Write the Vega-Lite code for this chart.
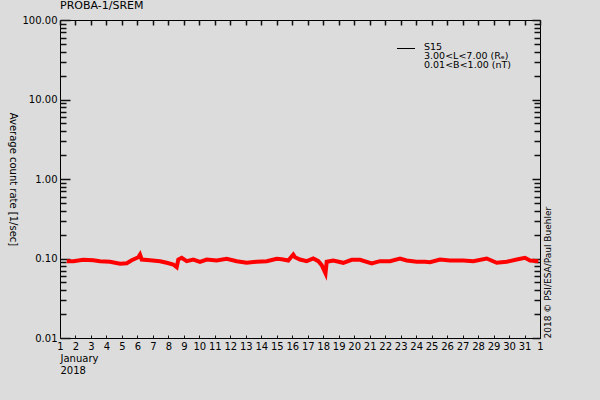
{
  "$schema": "https://vega.github.io/schema/vega-lite/v6.json",
  "width": 480,
  "height": 318,
  "autosize": "none",
  "padding": {"left": 60, "top": 20, "right": 60, "bottom": 62},
  "background": "#dcdcdc",
  "view": {"stroke": "#000000", "strokeWidth": 1, "fill": null},
  "config": {
    "font": "DejaVu Sans",
    "axis": {
      "grid": false,
      "zindex": 1,
      "domain": false,
      "labelColor": "#000000",
      "titleColor": "#000000",
      "labelFont": "DejaVu Sans",
      "titleFont": "DejaVu Sans",
      "labelFontSize": 10,
      "titleFontSize": 10,
      "titleFontWeight": "normal",
      "labelOverlap": false,
      "labelFlush": false
    }
  },
  "title": {
    "text": "PROBA-1/SREM",
    "anchor": "start",
    "frame": "group",
    "fontSize": 11,
    "fontWeight": "normal",
    "color": "#000000",
    "offset": 4
  },
  "datasets": {
    "srem": [
      {"time": "2018-01-01T10:24", "rate": 0.0925},
      {"time": "2018-01-01T20:36", "rate": 0.0925},
      {"time": "2018-01-02T12:07", "rate": 0.0963},
      {"time": "2018-01-03T03:38", "rate": 0.0952},
      {"time": "2018-01-03T14:00", "rate": 0.0925},
      {"time": "2018-01-04T05:30", "rate": 0.0909},
      {"time": "2018-01-04T21:00", "rate": 0.0858},
      {"time": "2018-01-05T07:24", "rate": 0.0873},
      {"time": "2018-01-05T15:08", "rate": 0.0952},
      {"time": "2018-01-06T01:22", "rate": 0.1038},
      {"time": "2018-01-06T04:00", "rate": 0.1122},
      {"time": "2018-01-06T06:38", "rate": 0.0971},
      {"time": "2018-01-06T19:30", "rate": 0.0952},
      {"time": "2018-01-07T11:00", "rate": 0.0925},
      {"time": "2018-01-07T21:23", "rate": 0.0883},
      {"time": "2018-01-08T07:37", "rate": 0.0840},
      {"time": "2018-01-08T12:53", "rate": 0.0777},
      {"time": "2018-01-08T15:22", "rate": 0.0971},
      {"time": "2018-01-08T20:38", "rate": 0.1020},
      {"time": "2018-01-09T04:23", "rate": 0.0925},
      {"time": "2018-01-09T14:37", "rate": 0.0971},
      {"time": "2018-01-10T01:00", "rate": 0.0909},
      {"time": "2018-01-10T11:23", "rate": 0.0971},
      {"time": "2018-01-11T02:53", "rate": 0.0944},
      {"time": "2018-01-11T18:23", "rate": 0.0991},
      {"time": "2018-01-12T09:53", "rate": 0.0925},
      {"time": "2018-01-13T01:23", "rate": 0.0883},
      {"time": "2018-01-13T16:53", "rate": 0.0909},
      {"time": "2018-01-14T08:23", "rate": 0.0925},
      {"time": "2018-01-14T23:53", "rate": 0.0991},
      {"time": "2018-01-15T07:38", "rate": 0.0980},
      {"time": "2018-01-15T17:51", "rate": 0.0944},
      {"time": "2018-01-16T01:36", "rate": 0.1122},
      {"time": "2018-01-16T04:15", "rate": 0.1038},
      {"time": "2018-01-16T12:00", "rate": 0.0971},
      {"time": "2018-01-16T22:23", "rate": 0.0925},
      {"time": "2018-01-17T08:37", "rate": 0.1000},
      {"time": "2018-01-17T16:22", "rate": 0.0925},
      {"time": "2018-01-17T21:38", "rate": 0.0824},
      {"time": "2018-01-18T03:32", "rate": 0.0650},
      {"time": "2018-01-18T05:23", "rate": 0.0909},
      {"time": "2018-01-18T15:36", "rate": 0.0944},
      {"time": "2018-01-19T07:06", "rate": 0.0883},
      {"time": "2018-01-19T20:08", "rate": 0.0963},
      {"time": "2018-01-20T09:00", "rate": 0.0963},
      {"time": "2018-01-21T03:08", "rate": 0.0865},
      {"time": "2018-01-21T16:00", "rate": 0.0925},
      {"time": "2018-01-22T07:30", "rate": 0.0925},
      {"time": "2018-01-22T23:00", "rate": 0.1000},
      {"time": "2018-01-23T09:23", "rate": 0.0944},
      {"time": "2018-01-24T00:53", "rate": 0.0909},
      {"time": "2018-01-24T13:45", "rate": 0.0909},
      {"time": "2018-01-24T21:30", "rate": 0.0899},
      {"time": "2018-01-25T13:00", "rate": 0.0971},
      {"time": "2018-01-26T04:30", "rate": 0.0944},
      {"time": "2018-01-27T01:06", "rate": 0.0944},
      {"time": "2018-01-27T16:36", "rate": 0.0925},
      {"time": "2018-01-28T13:22", "rate": 0.1000},
      {"time": "2018-01-29T04:52", "rate": 0.0883},
      {"time": "2018-01-29T20:22", "rate": 0.0909},
      {"time": "2018-01-30T11:53", "rate": 0.0971},
      {"time": "2018-01-31T00:45", "rate": 0.1020},
      {"time": "2018-01-31T08:30", "rate": 0.0944},
      {"time": "2018-01-31T21:22", "rate": 0.0925}
    ],
    "legendline": [
      {"start": "2018-01-22T18:21", "end": "2018-01-23T22:15", "rate": 43.8}
    ],
    "legendname": [
      {"label": "S15", "time": "2018-01-24T12:12", "rate": 46.0}
    ],
    "legendparams": [
      {"label": "3.00<L<7.00 (Rₑ)", "time": "2018-01-24T12:12", "rate": 35.2},
      {"label": "0.01<B<1.00 (nT)", "time": "2018-01-24T12:12", "rate": 27.5}
    ]
  },
  "layer": [
    {
      "data": {"name": "srem"},
      "mark": {"type": "line", "color": "#ff0000", "strokeWidth": 4, "clip": true},
      "encoding": {
        "x": {
          "field": "time",
          "type": "temporal",
          "scale": {"domain": [{"year": 2018, "month": 1, "date": 1}, {"year": 2018, "month": 2, "date": 1}]},
          "axis": {
            "orient": "bottom",
            "format": "%-d",
            "tickCount": {"interval": "day", "step": 1},
            "ticks": true,
            "tickColor": "#111111",
            "tickWidth": 1,
            "offset": -3,
            "tickSize": 3,
            "labelPadding": 3,
            "title": ["January", "2018"],
            "titleAnchor": "start",
            "titleAlign": "left",
            "titleBaseline": "top",
            "titleX": 0,
            "titleY": 18,
            "titleLineHeight": 12
          }
        },
        "y": {
          "field": "rate",
          "type": "quantitative",
          "scale": {"type": "log", "domain": [0.01, 100]},
          "axis": {
            "orient": "left",
            "values": [0.01, 0.1, 1, 10, 100],
            "format": ".2f",
            "ticks": true,
            "tickColor": "#111111",
            "tickWidth": 1.5,
            "offset": -10,
            "tickSize": 10,
            "labelPadding": 3,
            "title": "Average count rate [1/sec]",
            "titleAngle": 90,
            "titleAlign": "center",
            "titleBaseline": "middle",
            "titleX": -58,
            "titleY": 159
          }
        }
      }
    },
    {
      "data": {"name": "legendline"},
      "mark": {"type": "rule", "color": "#000000", "strokeWidth": 1},
      "encoding": {
        "x": {
          "field": "start",
          "type": "temporal",
          "scale": {"domain": [{"year": 2018, "month": 1, "date": 1}, {"year": 2018, "month": 2, "date": 1}]},
          "axis": {
            "orient": "top",
            "labels": false,
            "title": null,
            "ticks": true,
            "tickColor": "#111111",
            "tickWidth": 1.5,
            "offset": -5,
            "tickSize": 5,
            "tickCount": {"interval": "day", "step": 1}
          }
        },
        "x2": {"field": "end"},
        "y": {
          "field": "rate",
          "type": "quantitative",
          "scale": {"type": "log", "domain": [0.01, 100]},
          "axis": {
            "orient": "right",
            "labels": false,
            "values": [0.01, 0.1, 1, 10, 100],
            "ticks": true,
            "tickColor": "#111111",
            "tickWidth": 1.5,
            "offset": -8,
            "tickSize": 8,
            "title": "2018 © PSI/ESA/Paul Buehler",
            "titleFontSize": 9,
            "titleAngle": -90,
            "titleAlign": "left",
            "titleBaseline": "middle",
            "titleX": 15,
            "titleY": 318
          }
        }
      }
    },
    {
      "data": {"name": "legendname"},
      "mark": {"type": "text", "align": "left", "baseline": "middle", "fontSize": 9.5, "color": "#000000"},
      "encoding": {
        "x": {"field": "time", "type": "temporal", "axis": null},
        "y": {
          "field": "rate",
          "type": "quantitative",
          "axis": {
            "orient": "left",
            "labels": false,
            "title": null,
            "values": [0.02, 0.03, 0.04, 0.05, 0.06, 0.07, 0.08, 0.09, 0.2, 0.3, 0.4, 0.5, 0.6, 0.7, 0.8, 0.9, 2, 3, 4, 5, 6, 7, 8, 9, 20, 30, 40, 50, 60, 70, 80, 90],
            "ticks": true,
            "tickColor": "#111111",
            "tickWidth": 1.5,
            "offset": -6,
            "tickSize": 6
          }
        },
        "text": {"field": "label"}
      }
    },
    {
      "data": {"name": "legendparams"},
      "mark": {"type": "text", "align": "left", "baseline": "middle", "fontSize": 9.5, "color": "#000000"},
      "encoding": {
        "x": {"field": "time", "type": "temporal", "axis": null},
        "y": {
          "field": "rate",
          "type": "quantitative",
          "axis": {
            "orient": "right",
            "labels": false,
            "title": null,
            "values": [0.02, 0.03, 0.04, 0.05, 0.06, 0.07, 0.08, 0.09, 0.2, 0.3, 0.4, 0.5, 0.6, 0.7, 0.8, 0.9, 2, 3, 4, 5, 6, 7, 8, 9, 20, 30, 40, 50, 60, 70, 80, 90],
            "ticks": true,
            "tickColor": "#111111",
            "tickWidth": 1.5,
            "offset": -6,
            "tickSize": 6
          }
        },
        "text": {"field": "label"}
      }
    }
  ],
  "resolve": {"axis": {"x": "independent", "y": "independent"}}
}
